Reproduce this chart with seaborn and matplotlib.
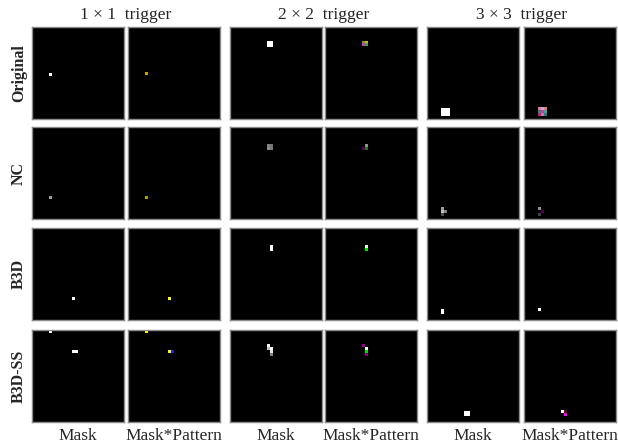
import numpy as np
import matplotlib
matplotlib.use("Agg")
import matplotlib.pyplot as plt
import matplotlib.colors as mcolors
import seaborn as sns

# trigger sizes / row methods / column kinds
triggers = ["1 × 1  trigger", "2 × 2  trigger", "3 × 3  trigger"]
methods = ["Original", "NC", "B3D", "B3D-SS"]
col_names = ["Mask", "Mask*Pattern"]
SIZE = 32

# masks: (row, col, intensity) ; patterns: (row, col, colour)
orig_mask_1 = [(16, 6, 1.0)]
orig_pat_1 = [(16, 6, "#c8a000")]
orig_mask_2 = [(5, 13, 1.0), (5, 14, 1.0), (6, 13, 1.0), (6, 14, 1.0)]
orig_pat_2 = [(5, 13, "#8c8c28"), (5, 14, "#d8b030"), (6, 13, "#c040c0"), (6, 14, "#40a050")]
orig_mask_3 = [(r, c, 1.0) for r in (28, 29, 30) for c in (5, 6, 7)]
orig_pat_3 = [(28, 5, "#e07890"), (28, 6, "#d8a0d8"), (28, 7, "#e08078"),
              (29, 5, "#308868"), (29, 6, "#c040a0"), (29, 7, "#40a0a0"),
              (30, 5, "#b03080"), (30, 6, "#d070b0"), (30, 7, "#208080")]

nc_mask_1 = [(24, 6, 0.62)]
nc_pat_1 = [(24, 6, "#a0a000")]
nc_mask_2 = [(6, 13, 0.50), (6, 14, 0.45), (7, 13, 0.55), (7, 14, 0.47)]
nc_pat_2 = [(6, 14, "#909090"), (7, 13, "#600060"), (7, 14, "#207020")]
nc_mask_3 = [(28, 5, 0.62), (29, 5, 0.75), (29, 6, 0.50), (30, 5, 0.30)]
nc_pat_3 = [(28, 5, "#909090"), (29, 6, "#500050"), (30, 5, "#404040")]

b3d_mask_1 = [(24, 14, 1.0)]
b3d_pat_1 = [(24, 14, "#ffff00")]
b3d_mask_2 = [(6, 14, 1.0), (7, 14, 1.0)]
b3d_pat_2 = [(6, 14, "#e0ffe0"), (7, 14, "#00e000")]
b3d_mask_3 = [(28, 5, 1.0), (29, 5, 1.0)]
b3d_pat_3 = [(28, 5, "#ffffff")]

ss_mask_1 = [(0, 6, 1.0), (7, 14, 1.0), (7, 15, 1.0)]
ss_pat_1 = [(0, 6, "#ffff00"), (7, 14, "#ffff00"), (7, 15, "#2020e0")]
ss_mask_2 = [(5, 13, 1.0), (6, 13, 0.75), (6, 14, 1.0), (7, 14, 0.9), (8, 14, 0.5)]
ss_pat_2 = [(5, 13, "#a000a0"), (6, 14, "#ffffff"), (7, 14, "#00e000"), (8, 14, "#800080")]
ss_mask_3 = [(28, 13, 1.0), (28, 14, 1.0), (29, 13, 1.0), (29, 14, 1.0)]
ss_pat_3 = [(28, 13, "#ffffff"), (28, 14, "#600010"), (29, 14, "#ff00ff")]

panels = [
    [orig_mask_1, orig_pat_1, orig_mask_2, orig_pat_2, orig_mask_3, orig_pat_3],
    [nc_mask_1, nc_pat_1, nc_mask_2, nc_pat_2, nc_mask_3, nc_pat_3],
    [b3d_mask_1, b3d_pat_1, b3d_mask_2, b3d_pat_2, b3d_mask_3, b3d_pat_3],
    [ss_mask_1, ss_pat_1, ss_mask_2, ss_pat_2, ss_mask_3, ss_pat_3],
]

sns.set_theme(style="white")
plt.rcParams["font.family"] = ["Liberation Serif", "DejaVu Serif"]

W, H = 618, 444
fig = plt.figure(figsize=(W / 100, H / 100), dpi=100)
col_left = [32, 128, 230, 325, 427, 524]
row_top = [27, 127, 228, 330]
box = 92

for i, row in enumerate(panels):
    for j, cells in enumerate(row):
        ax = fig.add_axes([col_left[j] / W, 1 - (row_top[i] + box) / H, box / W, box / H])
        if j % 2 == 0:
            mask = np.zeros((SIZE, SIZE))
            for r, c, v in cells:
                mask[r, c] = v
            sns.heatmap(mask, ax=ax, cmap="gray", vmin=0, vmax=1, cbar=False,
                        xticklabels=False, yticklabels=False)
        else:
            img = np.zeros((SIZE, SIZE, 3))
            for r, c, col in cells:
                img[r, c] = mcolors.to_rgb(col)
            ax.imshow(img, interpolation="nearest", aspect="auto")
            ax.set_xticks([])
            ax.set_yticks([])
        for s in ax.spines.values():
            s.set_visible(True)
            s.set_color("#8a8a8a")
            s.set_linewidth(1.0)

# group titles
for k, t in enumerate(triggers):
    xc = (col_left[2 * k] + col_left[2 * k + 1] + box) / 2
    fig.text(xc / W, 1 - 15 / H, t, ha="center", va="center", fontsize=12.5)

# row labels
for i, m in enumerate(methods):
    yc = row_top[i] + box / 2
    fig.text(19 / W, 1 - yc / H, m, ha="center", va="center", rotation=90,
             fontsize=11.5, fontweight="bold")

# column labels
for j in range(6):
    xc = col_left[j] + box / 2
    fig.text(xc / W, 1 - 436 / H, col_names[j % 2], ha="center", va="center", fontsize=12.5)

fig.savefig("out.png", dpi=100)
